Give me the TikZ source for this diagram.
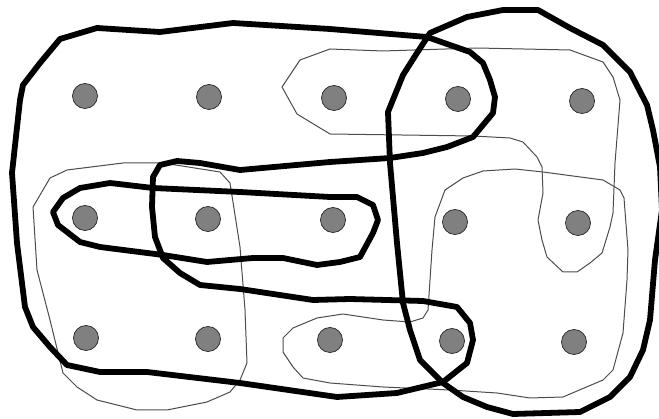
\documentclass[tikz,border=0pt]{standalone}
\begin{document}
\begin{tikzpicture}[x=1pt,y=-1pt,
  thickedge/.style={line width=5.8pt,line join=round,black},
  thinedge/.style={line width=1pt,line join=round,black!70},
  vertex/.style={circle,fill=black!50,draw=black!85,line width=0.7pt,minimum size=25pt,inner sep=0pt}]
\useasboundingbox (0,0) rectangle (659,419);
\clip (0,0) rectangle (659,419);
% thin hyperedges
\draw[thinedge] (330,49) -- (383,51) -- (477,48) -- (570,50) -- (603,62) -- (613,77) -- (620,100) -- (615,163) -- (613,213) -- (610,227) -- (602,253) -- (590,263) -- (577,272) -- (563,272) -- (547,257) -- (542,240) -- (538,220) -- (543,193) -- (542,167) -- (537,157) -- (523,142) -- (510,138) -- (473,136) -- (330,134) -- (297,114) -- (282,87) -- (300,60) -- cycle;
\draw[thinedge] (67,170) -- (123,163) -- (163,163) -- (220,172) -- (230,183) -- (240,247) -- (245,310) -- (247,363) -- (240,380) -- (230,392) -- (207,402) -- (167,410) -- (137,410) -- (97,400) -- (77,387) -- (63,373) -- (50,320) -- (37,270) -- (33,207) -- (50,178) -- cycle;
\draw[thinedge] (283,338) -- (293,328) -- (317,318) -- (343,314) -- (383,320) -- (410,322) -- (423,318) -- (428,310) -- (432,250) -- (435,217) -- (445,190) -- (463,178) -- (483,171) -- (515,169) -- (543,172) -- (603,180) -- (620,190) -- (624,198) -- (628,250) -- (627,280) -- (623,333) -- (613,370) -- (603,380) -- (563,397) -- (530,398) -- (497,393) -- (450,390) -- (383,387) -- (330,383) -- (303,378) -- (293,367) -- (283,352) -- cycle;
% thick hyperedges
\draw[thickedge] (60,39) -- (97,28) -- (160,32) -- (233,23) -- (330,29) -- (427,37) -- (470,52) -- (483,63) -- (490,80) -- (495,97) -- (493,113) -- (473,137) -- (447,147) -- (423,153) -- (390,158) -- (330,162) -- (240,170) -- (200,163) -- (177,161) -- (160,165) -- (153,177) -- (152,207) -- (155,237) -- (163,258) -- (180,273) -- (200,285) -- (240,289) -- (313,300) -- (350,299) -- (423,301) -- (457,307) -- (470,323) -- (473,340) -- (467,363) -- (443,382) -- (397,393) -- (337,397) -- (240,383) -- (147,372) -- (100,372) -- (67,365) -- (50,347) -- (33,327) -- (25,307) -- (17,243) -- (12,173) -- (20,100) -- (23,85) -- (40,63) -- cycle;
\draw[thickedge] (357,197) -- (330,197) -- (240,192) -- (153,188) -- (110,183) -- (80,188) -- (63,198) -- (53,212) -- (58,225) -- (80,242) -- (100,247) -- (163,255) -- (207,262) -- (253,258) -- (283,258) -- (317,265) -- (340,262) -- (360,257) -- (373,233) -- (378,220) -- (373,205) -- cycle;
\draw[thickedge] (430,33) -- (467,17) -- (503,10) -- (538,10) -- (570,28) -- (603,45) -- (630,72) -- (647,105) -- (653,130) -- (660,167) -- (662,210) -- (655,260) -- (650,320) -- (643,350) -- (630,377) -- (610,397) -- (580,412) -- (513,414) -- (487,407) -- (463,397) -- (443,383) -- (420,360) -- (410,330) -- (403,303) -- (397,243) -- (390,163) -- (388,112) -- (403,75) -- (417,53) -- cycle;
% vertices
\node[vertex] (v11) at (85,96) {};
\node[vertex] (v12) at (209,97) {};
\node[vertex] (v13) at (334,98) {};
\node[vertex] (v14) at (458,99) {};
\node[vertex] (v15) at (582,101) {};
\node[vertex] (v21) at (85,218) {};
\node[vertex] (v22) at (208,219) {};
\node[vertex] (v23) at (333,220) {};
\node[vertex] (v24) at (455,222) {};
\node[vertex] (v25) at (578,223) {};
\node[vertex] (v31) at (86,338) {};
\node[vertex] (v32) at (208,339) {};
\node[vertex] (v33) at (330,340) {};
\node[vertex] (v34) at (452,341) {};
\node[vertex] (v35) at (574,342) {};
\end{tikzpicture}
\end{document}
